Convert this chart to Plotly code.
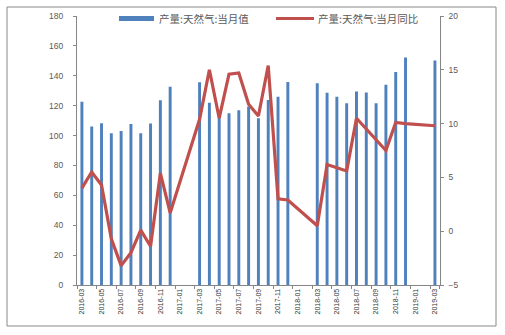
import plotly.graph_objects as go
from plotly.subplots import make_subplots

months = [
    "2016-03", "2016-04", "2016-05", "2016-06", "2016-07", "2016-08", "2016-09", "2016-10", "2016-11", "2016-12",
    "2017-01", "2017-02", "2017-03", "2017-04", "2017-05", "2017-06", "2017-07", "2017-08", "2017-09", "2017-10", "2017-11", "2017-12",
    "2018-01", "2018-02", "2018-03", "2018-04", "2018-05", "2018-06", "2018-07", "2018-08", "2018-09", "2018-10", "2018-11", "2018-12",
    "2019-01", "2019-02", "2019-03",
]

output_value = [
    122.7, 106.0, 108.2, 101.6, 103.1, 107.8, 101.6, 108.0, 123.6, 132.7,
    None, None, 135.7, 122.0, 112.0, 114.9, 117.0, 119.5, 111.6, 123.8, 126.0, 135.8,
    None, None, 135.0, 128.7, 126.0, 121.6, 129.5, 128.8, 121.6, 134.0, 142.5, 152.3,
    None, None, 150.2,
]

output_yoy = [
    4.0, 5.5, 4.3, -0.7, -3.2, -2.0, 0.1, -1.4, 5.4, 1.7,
    None, None, 10.4, 15.0, 10.5, 14.6, 14.7, 11.8, 10.7, 15.4, 3.0, 2.9,
    None, None, 0.5, 6.2, 5.9, 5.6, 10.5, 9.5, 8.5, 7.5, 10.1, 10.0,
    None, None, 9.8,
]

tick_months = months[::2]
left_ticks = [0, 20, 40, 60, 80, 100, 120, 140, 160, 180]
right_ticks = [-5, 0, 5, 10, 15, 20]

bar_name = "产量:天然气:当月值"
line_name = "产量:天然气:当月同比"

BLUE = "#4F81BD"
RED = "#C0504D"
AXIS = "#868686"
TXT = "#595959"

fig = make_subplots(specs=[[{"secondary_y": True}]])
fig.add_trace(go.Bar(x=months, y=output_value, name=bar_name, marker=dict(color=BLUE, line=dict(width=0))),
              secondary_y=False)
fig.add_trace(go.Scatter(x=months, y=output_yoy, name=line_name, mode="lines", connectgaps=True,
                         line=dict(color=RED, width=3.2)),
              secondary_y=True)

W, H = 505, 335
L, R, T, B = 77, 42, 16, 50
pw, ph = W - L - R, H - T - B

def px(x):
    return (x - L) / pw

def py(y):
    return (H - B - y) / ph

fig.update_layout(
    width=W, height=H,
    margin=dict(l=L, r=R, t=T, b=B, pad=0),
    paper_bgcolor="white", plot_bgcolor="white",
    showlegend=False,
    bargap=0.7,
    font=dict(family="Liberation Sans, Arial, sans-serif", color=TXT, size=8),
)
fig.update_xaxes(
    type="category", categoryorder="array", categoryarray=months,
    tickmode="array", tickvals=tick_months, ticktext=tick_months,
    tickangle=-90, tickfont=dict(size=7, color="#333333"),
    showline=True, linecolor=AXIS, linewidth=1,
    ticks="outside", ticklen=3, tickcolor=AXIS, tickson="boundaries",
    showgrid=False, zeroline=False, range=[-0.5, len(months) - 0.5],
)
fig.update_yaxes(
    range=[0, 180], tickvals=left_ticks, showgrid=False, zeroline=False,
    showline=True, linecolor=AXIS, linewidth=1, ticks="outside", ticklen=3, tickcolor=AXIS,
    tickfont=dict(size=8.5, color=TXT), ticklabelstandoff=8,
    secondary_y=False,
)
fig.update_yaxes(
    range=[-5, 20], tickvals=right_ticks, showgrid=False, zeroline=False,
    showline=True, linecolor=AXIS, linewidth=1, ticks="outside", ticklen=3, tickcolor=AXIS,
    tickfont=dict(size=8.5, color=TXT), ticklabelstandoff=3,
    secondary_y=True,
)

# chart border
fig.add_shape(type="rect", xref="paper", yref="paper",
              x0=px(7), x1=px(496), y0=py(326), y1=py(7),
              line=dict(color="#888888", width=1), fillcolor="rgba(0,0,0,0)", layer="below")

# legend (drawn manually to mimic Excel style)
fig.add_shape(type="rect", xref="paper", yref="paper",
              x0=px(119), x1=px(154), y0=py(21), y1=py(16),
              line=dict(width=0), fillcolor=BLUE)
fig.add_annotation(xref="paper", yref="paper", x=px(157), y=py(18.5), xanchor="left", yanchor="middle",
                   text=bar_name, showarrow=False,
                   font=dict(family="Noto Sans CJK SC", size=10.5, color=TXT))
fig.add_shape(type="line", xref="paper", yref="paper",
              x0=px(276), x1=px(314), y0=py(18.5), y1=py(18.5),
              line=dict(color=RED, width=3))
fig.add_annotation(xref="paper", yref="paper", x=px(316), y=py(18.5), xanchor="left", yanchor="middle",
                   text=line_name, showarrow=False,
                   font=dict(family="Noto Sans CJK SC", size=10.5, color=TXT))

fig.write_html("out.html")
